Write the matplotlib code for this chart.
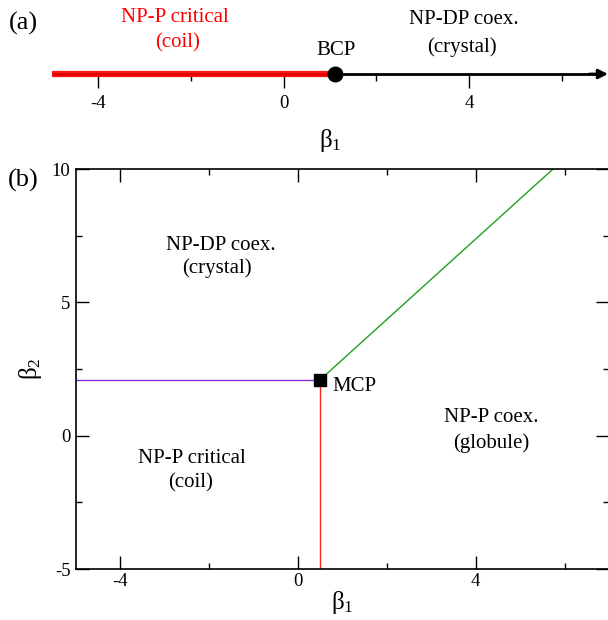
import matplotlib
matplotlib.use("Agg")
import matplotlib.pyplot as plt

plt.rcParams['font.family'] = ['Liberation Serif', 'DejaVu Serif']
plt.rcParams['mathtext.fontset'] = 'custom'
plt.rcParams['mathtext.rm'] = 'Liberation Serif'
plt.rcParams['mathtext.it'] = 'Liberation Serif:italic'

# ---------------- data ----------------
# panel (a): one-dimensional line in beta1
bcp_x = 1.1
line_a_start = -5.0
line_a_end = 7.0
a_major_ticks = [-4, 0, 4]
a_minor_ticks = [-2, 2, 6]

# panel (b): phase boundaries in (beta1, beta2)
mcp = (0.5, 2.1)
purple_x = [-5.0, 0.5]
purple_y = [2.1, 2.1]
red_x = [0.5, 0.5]
red_y = [-5.0, 2.1]
green_x = [0.5, 5.74]
green_y = [2.1, 10.0]
b_xmajor = [-4, 0, 4]
b_xminor = [-2, 2, 6]
b_ymajor = [-5, 0, 5, 10]
b_yminor = [-2.5, 2.5, 7.5]

W, H = 608, 620
fig = plt.figure(figsize=(W / 100, H / 100), dpi=100)

# ---------------- panel (a) ----------------
axa = fig.add_axes([52 / W, 1 - 74 / H, 556 / W, 74 / H])
axa.set_xlim(-5, 7)
axa.set_ylim(0, 1)
for s in ['top', 'left', 'right', 'bottom']:
    axa.spines[s].set_visible(False)
axa.set_yticks([])
axa.set_xticks(a_major_ticks)
axa.set_xticks(a_minor_ticks, minor=True)
axa.set_xticklabels(['-4', '0', '4'])
axa.tick_params(axis='x', which='major', direction='out', length=10, width=1.0,
                labelsize=13.5, pad=5)
axa.tick_params(axis='x', which='minor', direction='out', length=5, width=1.0)
axa.patch.set_alpha(0)

axa.plot([line_a_start, line_a_end - 0.25], [0, 0], color='black', lw=2.0,
         clip_on=False, solid_capstyle='butt', zorder=3)
axa.plot([line_a_start, bcp_x], [0, 0], color='#ff0000', lw=4.5, alpha=0.9,
         clip_on=False, solid_capstyle='butt', zorder=4)
axa.annotate('', xy=(line_a_end, 0), xytext=(line_a_end - 0.4, 0),
             arrowprops=dict(arrowstyle='-|>', color='black', lw=2.0,
                             mutation_scale=14, shrinkA=0, shrinkB=0),
             annotation_clip=False, zorder=5)
axa.plot([bcp_x], [0], 'o', color='black', markersize=10.5, clip_on=False, zorder=6)

axa.text(-2.34, 0.757, 'NP-P critical', color='#ff0000', fontsize=15,
         ha='center', va='center')
axa.text(-2.29, 0.419, '(coil)', color='#ff0000', fontsize=15,
         ha='center', va='center')
axa.text(1.14, 0.324, 'BCP', color='black', fontsize=15, ha='center', va='center')
axa.text(3.88, 0.73, 'NP-DP coex.', color='black', fontsize=15, ha='center', va='center')
axa.text(3.85, 0.365, '(crystal)', color='black', fontsize=15, ha='center', va='center')
axa.text(0.5, (74 - 140) / 74, r'$\mathregular{β_1}$', transform=axa.transAxes,
         fontsize=18, ha='center', va='center')

fig.text(23 / W, 1 - 23 / H, '(a)', fontsize=19, ha='center', va='center')

# ---------------- panel (b) ----------------
axb = fig.add_axes([76 / W, 1 - 569 / H, 533 / W, 400 / H])
axb.set_xlim(-5, 7)
axb.set_ylim(-5, 10)
axb.set_xticks(b_xmajor)
axb.set_xticks(b_xminor, minor=True)
axb.set_yticks(b_ymajor)
axb.set_yticks(b_yminor, minor=True)
axb.set_xticklabels(['-4', '0', '4'])
axb.set_yticklabels(['-5', '0', '5', '10'])
axb.tick_params(which='both', direction='in', top=True, right=True, width=1.0)
axb.tick_params(which='major', length=9.5, labelsize=13.5)
axb.tick_params(which='minor', length=4.5)
axb.tick_params(axis='x', which='major', pad=3)
axb.tick_params(axis='y', which='major', pad=4)
for s in axb.spines.values():
    s.set_linewidth(1.2)

axb.plot(purple_x, purple_y, color='#8a2be2', lw=1.0)
axb.plot(red_x, red_y, color='#ff2020', lw=1.0)
axb.plot(green_x, green_y, color='#20a020', lw=1.0)
axb.plot([mcp[0]], [mcp[1]], 's', color='black', markersize=8.8, zorder=5)

axb.text(-1.74, 7.15, 'NP-DP coex.', fontsize=15, ha='center', va='center')
axb.text(-1.83, 6.29, '(crystal)', fontsize=15, ha='center', va='center')
axb.text(0.78, 1.83, 'MCP', fontsize=15, ha='left', va='center')
axb.text(4.34, 0.70, 'NP-P coex.', fontsize=15, ha='center', va='center')
axb.text(4.34, -0.27, '(globule)', fontsize=15, ha='center', va='center')
axb.text(-2.40, -0.84, 'NP-P critical', fontsize=15, ha='center', va='center')
axb.text(-2.42, -1.78, '(coil)', fontsize=15, ha='center', va='center')

axb.text(0.5, (569 - 603) / 400, r'$\mathregular{β_1}$', transform=axb.transAxes,
         fontsize=18, ha='center', va='center')
axb.text((31 - 76) / 533, 0.5, r'$\mathregular{β_2}$', transform=axb.transAxes,
         fontsize=18, ha='center', va='center', rotation=90)

fig.text(23 / W, 1 - 180 / H, '(b)', fontsize=19, ha='center', va='center')

fig.savefig('out.png', dpi=100)
